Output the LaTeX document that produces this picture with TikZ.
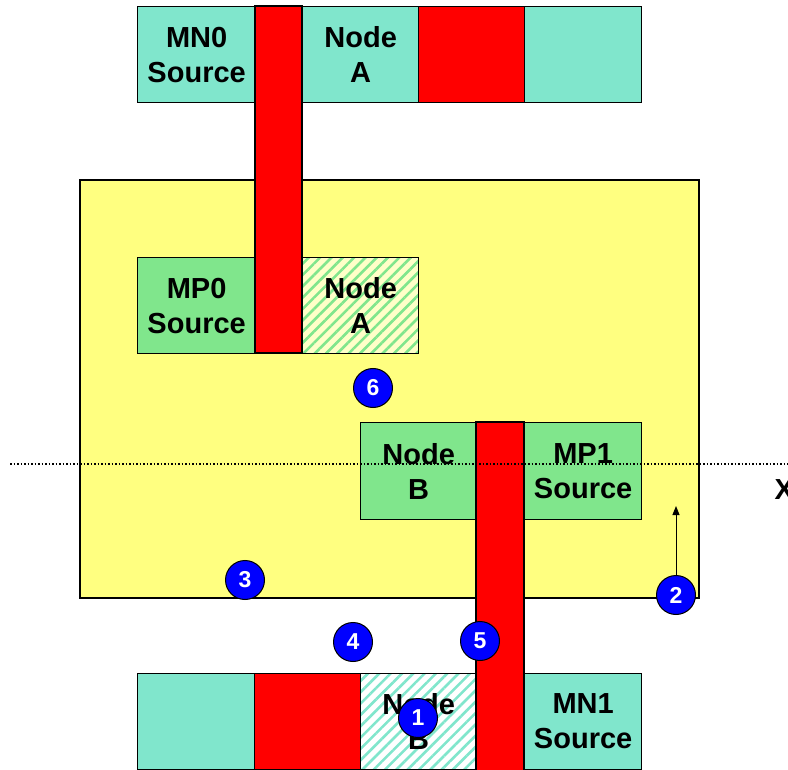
\documentclass[tikz,border=0pt]{standalone}
\usepackage{fontspec}
\setmainfont{Liberation Sans}
\usetikzlibrary{patterns.meta,arrows.meta}
\definecolor{mnfill}{RGB}{128,230,204}
\definecolor{mpfill}{RGB}{128,230,140}
\definecolor{wellfill}{RGB}{255,255,128}
\definecolor{paleyellow}{RGB}{255,255,200}
\definecolor{markblue}{RGB}{0,0,255}

\begin{document}
\begin{tikzpicture}[x=1pt, y=-1pt,
    cell/.style={draw=black, line width=1.3pt, anchor=north west, inner sep=0pt,
        align=center, minimum height=96pt, font=\fontsize{29}{35}\selectfont\bfseries},
    gate/.style={draw=black, fill=red, line width=1.3pt},
    hatch/.style 2 args={preaction={fill=#1},
        preaction={pattern={Lines[angle=45,distance=8pt,line width=2.6pt]}, pattern color=#2}},
    marker/.style={circle, draw=black, fill=markblue, text=white, minimum size=39pt,
        inner sep=0pt, line width=1pt, font=\fontsize{23}{23}\selectfont\bfseries}]
    \useasboundingbox (0,0) rectangle (788,770);

    % N-well / yellow region
    \draw[fill=wellfill, line width=1.3pt] (80,180) rectangle (699,598);

    % Top row (MN0)
    \node[cell, fill=mnfill, minimum width=118pt] (mn0src) at (137,6) {MN0\\Source};
    \node[cell, fill=mnfill, minimum width=116pt] (mn0a) at (302,6) {Node\\A};
    \node[cell, fill=red, minimum width=106pt] (topred) at (418,6) {};
    \node[cell, fill=mnfill, minimum width=117pt] (topend) at (524,6) {};

    % MP0 row
    \node[cell, fill=mpfill, minimum width=118pt] (mp0src) at (137,257) {MP0\\Source};
    \node[cell, hatch={paleyellow}{mpfill}, minimum width=116pt] (mp0a) at (302,257) {Node\\A};

    % Upper gate
    \draw[gate] (255,6) rectangle (302,353);

    % MP1 row
    \node[cell, fill=mpfill, minimum width=116pt, minimum height=97pt] (mp1b) at (360,422) {Node\\B};
    \node[cell, fill=mpfill, minimum width=117pt, minimum height=97pt] (mp1src) at (524,422) {MP1\\Source};

    % Bottom row (MN1)
    \node[cell, fill=mnfill, minimum width=117pt] (botstart) at (137,673) {};
    \node[cell, fill=red, minimum width=106pt] (botred) at (254,673) {};
    \node[cell, hatch={white}{mnfill}, minimum width=116pt] (mn1b) at (360,673) {Node\\B};
    \node[cell, fill=mnfill, minimum width=117pt] (mn1src) at (524,673) {MN1\\Source};

    % Lower gate
    \draw[gate] (476,422) rectangle (524,772);

    % Symmetry axis
    \draw[dotted, line width=1.5pt] (10,464) -- (790,464);
    \node[font=\fontsize{29}{29}\selectfont\bfseries, anchor=west] (axis) at (771,490) {X};

    % Numbered markers
    \node[marker] (m1) at (418,718) {1};
    \node[marker] (m2) at (676,595) {2};
    \node[marker] (m3) at (245,580) {3};
    \node[marker] (m4) at (353,642) {4};
    \node[marker] (m5) at (480,641) {5};
    \node[marker] (m6) at (373,388) {6};

    \coordinate (arrowtip) at (676,506);
    \draw[line width=1pt, -{Triangle[length=9pt,width=7pt]}] (m2) -- (arrowtip);
\end{tikzpicture}
\end{document}
